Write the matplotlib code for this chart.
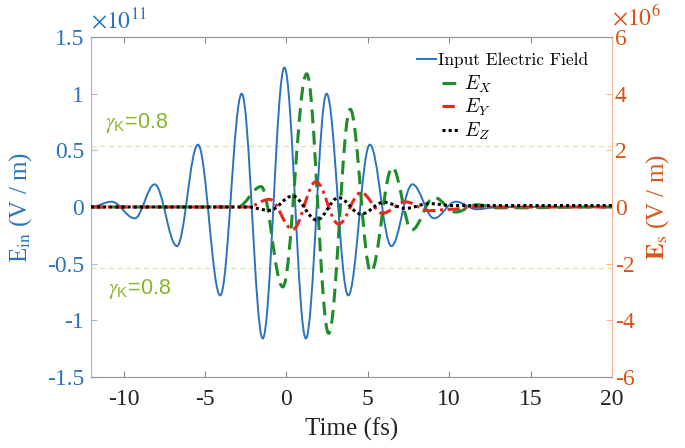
import numpy as np
import matplotlib.pyplot as plt
from matplotlib.path import Path
from matplotlib.patches import PathPatch
from matplotlib.lines import Line2D
from matplotlib.font_manager import FontProperties

plt.rcParams['font.family'] = ['Liberation Serif', 'DejaVu Serif']
plt.rcParams['mathtext.fontset'] = 'stix'
plt.rcParams['axes.unicode_minus'] = False

# extrema: time (fs), field
# input field in units of 1e11 V/m
t_in = [-12.0, -10.74, -9.31, -8.09, -6.72, -5.43, -4.06, -2.74, -1.45, -0.12,
        1.20, 2.47, 3.80, 5.13, 6.45, 7.74, 9.07, 10.40, 11.70, 13.0, 20.0]
e_in = [0.0, 0.047, -0.10, 0.20, -0.345, 0.55, -0.78, 1.00, -1.16, 1.23,
        -1.16, 1.00, -0.78, 0.55, -0.345, 0.20, -0.10, 0.047, -0.02, 0.0, 0.0]

# scattered fields in units of 1e6 V/m
t_x = [-12.0, -3.0, -1.55, -0.22, 1.25, 2.60, 3.92, 5.19, 6.51, 7.70,
       9.07, 10.40, 11.70, 13.0, 20.0]
e_x = [0.0, 0.0, 0.72, -2.82, 4.70, -4.46, 3.45, -2.29, 1.40, -0.81,
       0.34, -0.18, 0.08, -0.03, 0.0]

t_y = [-12.0, -2.4, -1.04, 0.39, 1.82, 3.21, 4.58, 5.90, 7.33, 8.76,
       10.2, 11.6, 20.0]
e_y = [0.0, 0.0, 0.27, -0.79, 0.89, -0.60, 0.51, -0.22, 0.18, -0.13,
       -0.08, 0.0, 0.0]

t_z = [-12.0, -2.4, -1.04, 0.39, 1.86, 3.21, 4.58, 6.00, 7.30, 8.76,
       10.2, 20.0]
e_z = [0.0, 0.0, -0.12, 0.39, -0.46, 0.33, -0.25, 0.17, -0.05, 0.12,
       0.05, 0.05]

gamma_level = 0.54  # 1e11 V/m

blue = '#2a72c0'
orange = '#d95319'
green = '#1f8c2a'
red = '#e8281e'
lime = '#8cb42a'


def smooth_path(t, v, k=0.3642):
    # smooth curve through the extrema with flat tangents at each one
    verts = [(t[0], v[0])]
    codes = [Path.MOVETO]
    for i in range(len(t) - 1):
        dt = t[i + 1] - t[i]
        verts += [(t[i] + k * dt, v[i]), (t[i + 1] - k * dt, v[i + 1]), (t[i + 1], v[i + 1])]
        codes += [Path.CURVE4] * 3
    return Path(verts, codes)


fig = plt.figure(figsize=(6.85, 4.48), dpi=100)
ax = fig.add_axes([0.1328, 0.1585, 0.7606, 0.7589])
ax2 = ax.twinx()

ax.axhline(gamma_level, color='#dde6a8', lw=0.9, ls=(0, (4, 3)), zorder=1)
ax.axhline(-gamma_level, color='#dde6a8', lw=0.9, ls=(0, (4, 3)), zorder=1)

ax.add_patch(PathPatch(smooth_path(t_in, e_in), fill=False, edgecolor=blue, lw=1.4, zorder=2))
ax2.add_patch(PathPatch(smooth_path(t_x, e_x), fill=False, edgecolor=green, lw=2.2,
                        ls=(0, (4.5, 2.5)), zorder=2))
ax2.add_patch(PathPatch(smooth_path(t_y, e_y), fill=False, edgecolor=red, lw=2.2,
                        ls=(0, (4, 1.5, 1, 1.5)), zorder=3))
ax2.add_patch(PathPatch(smooth_path(t_z, e_z), fill=False, edgecolor='black', lw=2.2,
                        ls=(0, (1, 1)), zorder=4))

ax.set_xlim(-12, 20)
ax.set_ylim(-1.5, 1.5)
ax2.set_ylim(-6, 6)
ax.set_xticks([-10, -5, 0, 5, 10, 15, 20])
ax.set_yticks([-1.5, -1, -0.5, 0, 0.5, 1, 1.5])
ax.set_yticklabels(['-1.5', '-1', '-0.5', '0', '0.5', '1', '1.5'])
ax2.set_yticks([-6, -4, -2, 0, 2, 4, 6])

ax.tick_params(axis='x', direction='in', length=4, labelsize=17, colors='#222222',
               top=True, color='#888888', pad=9)
ax.tick_params(axis='y', direction='in', length=4, labelsize=17, labelcolor=blue,
               color='#9dbbe3', pad=5)
ax2.tick_params(axis='y', direction='in', length=4, labelsize=17, labelcolor=orange,
                color='#f2b89a', pad=2)

for a in (ax, ax2):
    a.spines['top'].set_color('#999999')
    a.spines['bottom'].set_color('#999999')
    a.spines['left'].set_color('#9dbbe3')
    a.spines['right'].set_color('#f2b89a')

ax.set_xlabel('Time (fs)', fontsize=18, color='#222222', labelpad=5)
ax.set_ylabel(r'E$_{\rm in}$ (V / m)', fontsize=18, color=blue, labelpad=9)
ax2.set_ylabel(r'$\mathbf{E}_{\rm s}$ (V / m)', fontsize=18, color=orange, labelpad=7)

ax.text(0.0, 1.01, r'$\times10^{11}$', transform=ax.transAxes, color=blue,
        fontsize=17, ha='left', va='bottom')
ax2.text(1.0, 1.02, r'$\times10^{6}$', transform=ax2.transAxes, color=orange,
         fontsize=17, ha='left', va='bottom')

ax.text(-11.15, 0.70, r'$\gamma_{\mathregular{K}}$=0.8', color=lime, fontsize=15.5,
        family='Liberation Sans', math_fontfamily='stix', va='baseline')
ax.text(-10.97, -0.77, r'$\gamma_{\mathregular{K}}$=0.8', color=lime, fontsize=15.5,
        family='Liberation Sans', math_fontfamily='stix', va='baseline')

# legend: input field on its own row, scattered components indented below
h_in = [Line2D([], [], color=blue, lw=1.4)]
h_s = [Line2D([], [], color=green, lw=2.2, ls=(0, (4.5, 2.5))),
       Line2D([], [], color=red, lw=2.2, ls=(0, (4, 1.5, 1, 1.5))),
       Line2D([], [], color='black', lw=2.2, ls=(0, (1, 1)))]
leg1 = ax2.legend(h_in, ['Input Electric Field'], loc='upper left',
                  bbox_to_anchor=(0.626, 0.955), frameon=False,
                  prop=FontProperties(family='cmr10', size=12.5),
                  handlelength=1.1, handletextpad=0.1, borderpad=0, borderaxespad=0)
ax2.add_artist(leg1)
ax2.legend(h_s, ['$E_X$', '$E_Y$', '$E_Z$'], loc='upper left',
           bbox_to_anchor=(0.674, 0.893), frameon=False,
           prop=FontProperties(size=14, math_fontfamily='cm'),
           handlelength=0.8, handletextpad=0.3, labelspacing=0.12,
           borderpad=0, borderaxespad=0)

plt.savefig('out.png', dpi=100)
